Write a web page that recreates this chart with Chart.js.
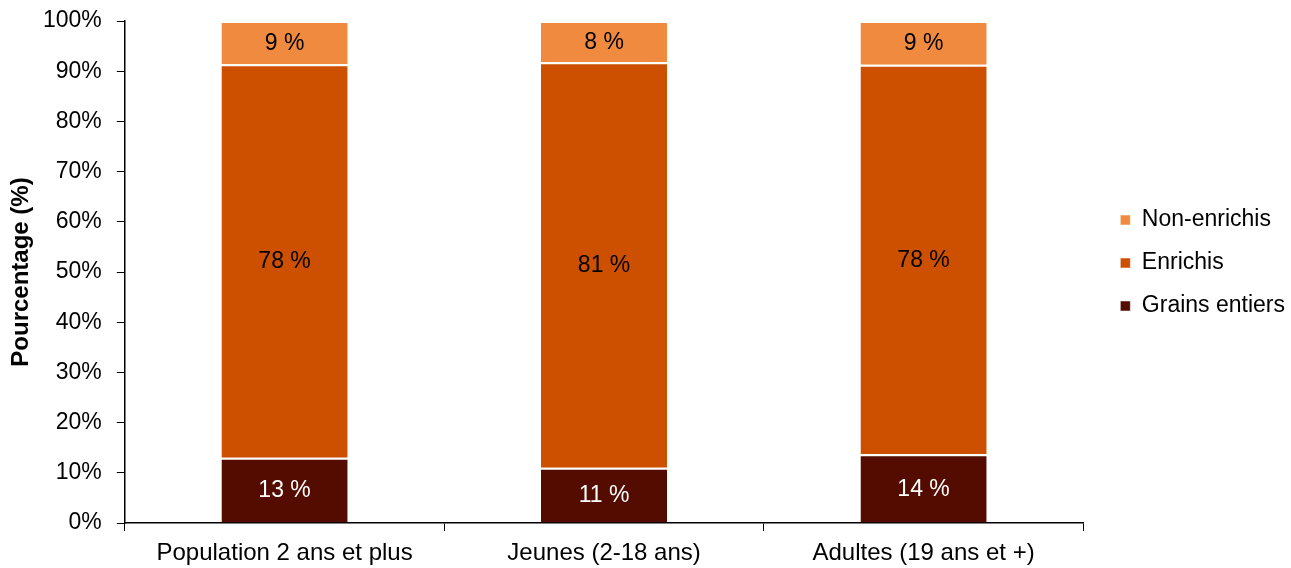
<!DOCTYPE html>
<html>
<head>
<meta charset="utf-8">
<script src="https://cdn.jsdelivr.net/npm/chart.js@4/dist/chart.umd.min.js"></script>
<style>
html, body { margin: 0; padding: 0; background: #fff; }
#wrap { width: 1291px; height: 568px; }
</style>
</head>
<body>
<div id="wrap"><canvas id="cerealChart"></canvas></div>
<script>
const categories = ['Population 2 ans et plus', 'Jeunes (2-18 ans)', 'Adultes (19 ans et +)'];
const grainsEntiers = [13.0, 11.0, 13.7];
const enrichis = [78.4, 80.8, 77.6];
const nonEnrichis = [8.6, 8.2, 8.7];
const yTicks = [0, 10, 20, 30, 40, 50, 60, 70, 80, 90, 100];

const fontFamily = "'Liberation Sans', Arial, Helvetica, sans-serif";
const axisColor = '#000';

// rounded value in the middle of each segment
const segmentLabels = {
  id: 'segmentLabels',
  afterDatasetsDraw(chart) {
    const ctx = chart.ctx;
    ctx.save();
    ctx.font = '23px ' + fontFamily;
    ctx.textAlign = 'center';
    ctx.textBaseline = 'middle';
    chart.data.datasets.forEach((ds, i) => {
      chart.getDatasetMeta(i).data.forEach((bar, j) => {
        ctx.fillStyle = ds.labelColor;
        ctx.fillText(Math.round(ds.data[j]) + ' %', bar.x, (bar.y + bar.base) / 2 + 1);
      });
    });
    ctx.restore();
  }
};

// legend sits a bit above the vertical middle
const legendShift = {
  id: 'legendShift',
  afterLayout(chart) {
    chart.legend.top -= 35;
    chart.legend.bottom -= 35;
  }
};

const noPad = axis => { axis.paddingTop = 0; axis.paddingBottom = 0; };

new Chart(document.getElementById('cerealChart'), {
  type: 'bar',
  data: {
    labels: categories,
    datasets: [
      { label: 'Grains entiers', data: grainsEntiers, backgroundColor: '#540B00', labelColor: '#fff' },
      { label: 'Enrichis', data: enrichis, backgroundColor: '#CD4F00', labelColor: '#000' },
      { label: 'Non-enrichis', data: nonEnrichis, backgroundColor: '#EF8A3E', labelColor: '#000' }
    ].map(d => ({ ...d, borderColor: '#fff', borderWidth: { top: 2, left: 0, right: 0, bottom: 0 }, borderSkipped: 'start', categoryPercentage: 0.395, barPercentage: 1 }))
  },
  options: {
    responsive: true,
    maintainAspectRatio: false,
    animation: false,
    layout: { padding: { top: 21, bottom: -7, left: 0, right: -4 } },
    plugins: {
      legend: {
        position: 'right',
        reverse: true,
        labels: {
          color: '#000',
          font: { family: fontFamily, size: 23 },
          boxWidth: 10,
          boxHeight: 10,
          padding: 20
        }
      },
      tooltip: { enabled: false }
    },
    scales: {
      x: {
        stacked: true,
        border: { color: axisColor, width: 1.5 },
        grid: { display: true, drawOnChartArea: false, color: axisColor, tickLength: 8, offset: true },
        ticks: { color: '#000', font: { family: fontFamily, size: 24 }, padding: 7.6, maxRotation: 0 }
      },
      y: {
        stacked: true,
        min: 0,
        max: 100,
        afterBuildTicks: axis => { axis.ticks = yTicks.map(v => ({ value: v })); },
        afterFit: noPad,
        border: { color: axisColor, width: 1.5 },
        grid: { display: true, drawOnChartArea: false, color: axisColor, tickLength: 8 },
        ticks: { color: '#000', font: { family: fontFamily, size: 23 }, padding: 15, callback: v => v + '%' },
        title: { display: true, text: 'Pourcentage (%)', color: '#000', font: { family: fontFamily, size: 24, weight: 'bold' }, padding: { top: 6.6, bottom: -7.4 } }
      },
      gap: {
        type: 'linear',
        position: 'right',
        grid: { display: false },
        border: { display: false },
        ticks: { display: false },
        afterFit: axis => { axis.width = 17; noPad(axis); }
      }
    }
  },
  plugins: [segmentLabels, legendShift]
});
</script>
</body>
</html>
